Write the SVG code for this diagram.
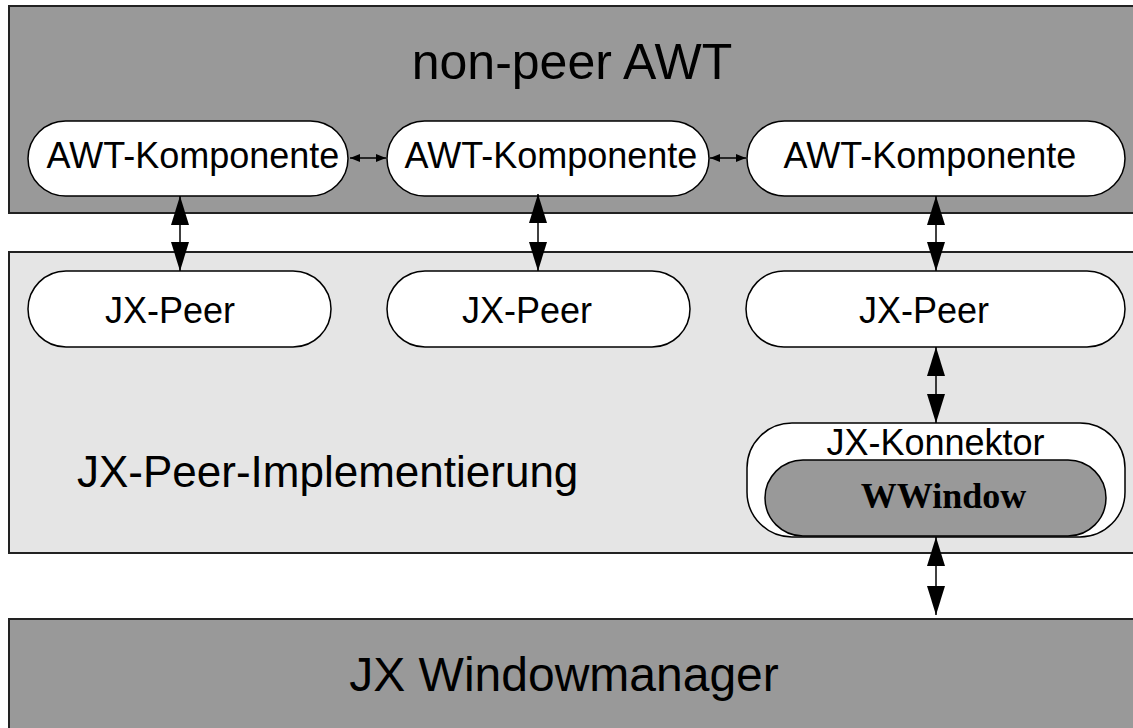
<svg xmlns="http://www.w3.org/2000/svg" width="1133" height="728" viewBox="0 0 1133 728">
  <defs>
    <marker id="bigHead" viewBox="0 0 29 18" refX="29" refY="9" markerWidth="29" markerHeight="18" markerUnits="userSpaceOnUse" orient="auto-start-reverse">
      <path d="M0,0 L29,9 L0,18 Z" fill="#000"/>
    </marker>
    <marker id="smallHead" viewBox="0 0 10 8" refX="10" refY="4" markerWidth="10" markerHeight="8" markerUnits="userSpaceOnUse" orient="auto-start-reverse">
      <path d="M0,0 L10,4 L0,8 Z" fill="#000"/>
    </marker>
    <style>
      .layer { stroke: #222; stroke-width: 2; }
      .dark { fill: #999999; }
      .light { fill: #e5e5e5; }
      .node { fill: #fff; stroke: #000; stroke-width: 1.5; }
      .inner { fill: #999999; stroke: #000; stroke-width: 1.5; }
      .title { font-family: "Liberation Sans", Arial, sans-serif; fill: #000; }
      .label { font-family: "Liberation Sans", Arial, sans-serif; font-size: 36px; fill: #000; text-anchor: middle; }
      .bold { font-family: "Liberation Serif", "Times New Roman", serif; font-weight: bold; fill: #000; text-anchor: middle; }
      .link { stroke: #000; stroke-width: 1.5; fill: none; }
    </style>
  </defs>

  <rect width="1133" height="728" fill="#fff"/>

  <!-- layers -->
  <g id="layer-awt">
    <rect class="layer dark" x="9" y="6" width="1140" height="207"/>
    <text class="title" x="572" y="79" font-size="50" text-anchor="middle">non-peer AWT</text>
  </g>
  <g id="layer-peer">
    <rect class="layer light" x="9" y="252" width="1140" height="301"/>
    <text class="title" x="77" y="487" font-size="44">JX-Peer-Implementierung</text>
  </g>
  <g id="layer-wm">
    <rect class="layer dark" x="9" y="619" width="1140" height="130"/>
    <text class="title" x="564" y="691" font-size="48" text-anchor="middle">JX Windowmanager</text>
  </g>

  <!-- AWT components -->
  <g id="awt1">
    <rect class="node" x="28" y="121" width="320" height="75" rx="37.5"/>
    <text class="label" x="193" y="168">AWT-Komponente</text>
  </g>
  <g id="awt2">
    <rect class="node" x="387" y="121" width="322" height="75" rx="37.5"/>
    <text class="label" x="551" y="168">AWT-Komponente</text>
  </g>
  <g id="awt3">
    <rect class="node" x="747" y="121" width="378" height="75" rx="37.5"/>
    <text class="label" x="930" y="168">AWT-Komponente</text>
  </g>

  <!-- peers -->
  <g id="peer1">
    <rect class="node" x="28" y="271" width="303" height="76" rx="38"/>
    <text class="label" x="170" y="323">JX-Peer</text>
  </g>
  <g id="peer2">
    <rect class="node" x="387" y="271" width="303" height="76" rx="38"/>
    <text class="label" x="527" y="323">JX-Peer</text>
  </g>
  <g id="peer3">
    <rect class="node" x="746" y="271" width="379" height="76" rx="38"/>
    <text class="label" x="924" y="323">JX-Peer</text>
  </g>

  <!-- connector with nested window -->
  <g id="konnektor">
    <rect class="node" x="747" y="423" width="378" height="114" rx="45"/>
    <text class="label" x="935.5" y="455">JX-Konnektor</text>
  </g>
  <g id="wwindow">
    <rect class="inner" x="765" y="460" width="341" height="76" rx="38"/>
    <text class="bold" x="943.5" y="508" font-size="36">WWindow</text>
  </g>

  <!-- connectors -->
  <g id="connectors">
    <line class="link" x1="350" y1="158" x2="386" y2="158" marker-start="url(#smallHead)" marker-end="url(#smallHead)"/>
    <line class="link" x1="710" y1="158" x2="746" y2="158" marker-start="url(#smallHead)" marker-end="url(#smallHead)"/>
    <line class="link" x1="180" y1="196" x2="180" y2="271" marker-start="url(#bigHead)" marker-end="url(#bigHead)"/>
    <line class="link" x1="538" y1="194" x2="538" y2="271" marker-start="url(#bigHead)" marker-end="url(#bigHead)"/>
    <line class="link" x1="936" y1="196" x2="936" y2="271" marker-start="url(#bigHead)" marker-end="url(#bigHead)"/>
    <line class="link" x1="936" y1="347" x2="936" y2="423" marker-start="url(#bigHead)" marker-end="url(#bigHead)"/>
    <line class="link" x1="936" y1="537" x2="936" y2="615" marker-start="url(#bigHead)" marker-end="url(#bigHead)"/>
  </g>
</svg>
